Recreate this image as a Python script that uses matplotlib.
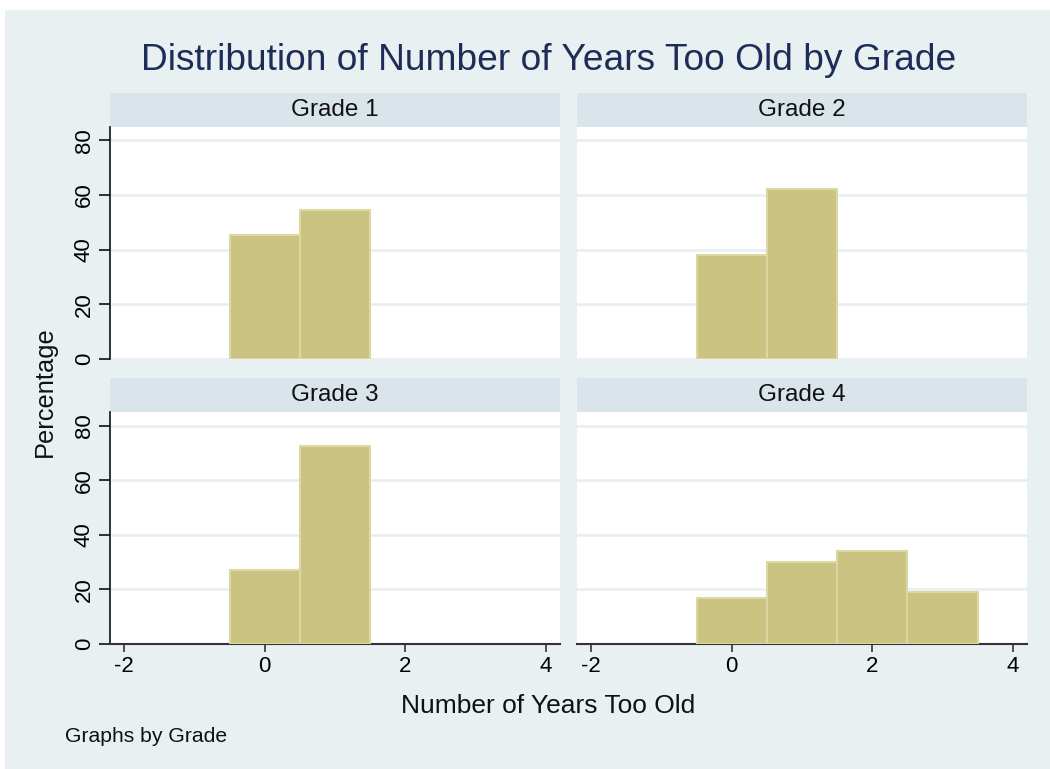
import numpy as np
import matplotlib.pyplot as plt
from matplotlib.patches import Rectangle

plt.rcParams['font.family'] = ['Liberation Sans', 'DejaVu Sans']
plt.rcParams['axes.unicode_minus'] = False

# data (percent of pupils per years-too-old value)
grades = ['Grade 1', 'Grade 2', 'Grade 3', 'Grade 4']
years_g1 = [0, 1]
pct_g1 = [45.5, 54.5]
years_g2 = [0, 1]
pct_g2 = [38.0, 62.0]
years_g3 = [0, 1]
pct_g3 = [27.3, 72.7]
years_g4 = [0, 1, 2, 3]
pct_g4 = [17.0, 30.2, 34.0, 19.0]
years = [years_g1, years_g2, years_g3, years_g4]
pcts = [pct_g1, pct_g2, pct_g3, pct_g4]

W, H = 1050, 769
bg = '#e8f0f2'
strip_col = '#d9e5eb'
bar_col = '#cac382'
bar_edge = '#ddd7a3'
grid_col = '#e6eef1'
title_col = '#1e2c58'

fig = plt.figure(figsize=(W / 100, H / 100), dpi=100, facecolor='white')
fig.patches.append(Rectangle((5 / W, 0), 1 - 5 / W, (H - 10) / H,
                             transform=fig.transFigure, facecolor=bg,
                             edgecolor='none', zorder=-10))

def fx(px):
    return px / W

def fy(py):
    return 1 - py / H

# pixel boxes: (left, right, strip_top, plot_top, plot_bottom)
boxes = [(110, 560, 93, 127, 359), (577, 1027, 93, 127, 359),
         (110, 560, 378, 412, 644), (577, 1027, 378, 412, 644)]

for i, (l, r, st, pt, pb) in enumerate(boxes):
    # strip with the panel label
    sax = fig.add_axes([fx(l), fy(pt), fx(r - l), (pt - st) / H])
    sax.set_facecolor(strip_col)
    sax.set_xticks([])
    sax.set_yticks([])
    for s in sax.spines.values():
        s.set_visible(False)
    sax.text(0.5, 0.5, grades[i], ha='center', va='center', fontsize=17.5,
             color='#111111', transform=sax.transAxes)

    ax = fig.add_axes([fx(l), fy(pb), fx(r - l), (pb - pt) / H])
    ax.set_facecolor('white')
    ax.bar(years[i], pcts[i], width=1.0, color=bar_col, edgecolor=bar_edge,
           linewidth=1.5, zorder=3)
    ax.set_xlim(-2.2, 4.2)
    ax.set_ylim(0, 84.8 if i < 2 else 85.1)
    ax.set_yticks([0, 20, 40, 60, 80])
    ax.set_xticks([-2, 0, 2, 4])
    ax.yaxis.grid(True, color=grid_col, linewidth=1.8, zorder=0)
    ax.set_axisbelow(True)
    for s in ['top', 'right']:
        ax.spines[s].set_visible(False)
    left_col = i % 2 == 0
    bottom_row = i >= 2
    ax.spines['left'].set_visible(left_col)
    ax.spines['left'].set_color('#111111')
    ax.spines['left'].set_linewidth(1.2)
    ax.spines['bottom'].set_visible(bottom_row)
    ax.spines['bottom'].set_color('#333333')
    ax.spines['bottom'].set_linewidth(1.5)
    ax.tick_params(axis='y', length=8 if left_col else 0, width=1.2,
                   color='#111111', labelsize=16, pad=3,
                   labelleft=left_col, labelrotation=90)
    for t in ax.get_yticklabels():
        t.set_va('center')
    ax.tick_params(axis='x', length=6 if bottom_row else 0, width=1.2,
                   color='#333333', labelsize=16, pad=3,
                   labelbottom=bottom_row)

fig.text(fx(549), fy(61), 'Distribution of Number of Years Too Old by Grade',
         ha='center', va='center', fontsize=26.7, color=title_col)
fig.text(fx(45), fy(392), 'Percentage', ha='center', va='center',
         rotation=90, fontsize=18.3, color='#111111')
fig.text(fx(548), fy(706), 'Number of Years Too Old', ha='center',
         va='center', fontsize=19, color='#111111')
fig.text(fx(65), fy(736), 'Graphs by Grade', ha='left', va='center',
         fontsize=15.2, color='#111111')

fig.savefig('out.png', dpi=100, facecolor=fig.get_facecolor())
